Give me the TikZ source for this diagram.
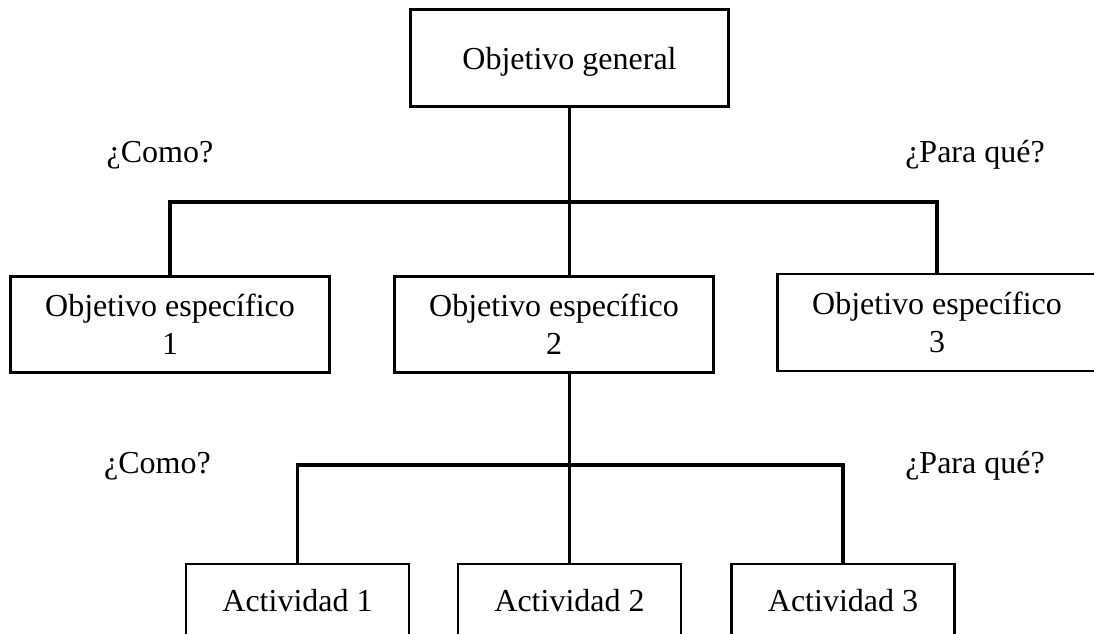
\documentclass[tikz,border=0pt]{standalone}
\usepackage{fontspec}
\setmainfont{Liberation Serif}
\begin{document}
\begin{tikzpicture}[x=1pt,y=-1pt,
  every node/.style={font=\fontsize{32}{38}\selectfont},
  box/.style={draw=black,line width=2.2pt,rectangle,inner sep=0pt,align=center},
  onebox/.style={box,text height=22pt,text depth=0pt},
  actbox/.style={box,minimum width=223pt,minimum height=80pt,text height=22pt,text depth=8pt},
  link/.style={draw=black,line width=3.6pt},
  ask/.style={anchor=base,inner sep=0pt}]
  \clip (0,0) rectangle (1094,633);
  \fill[white] (0,0) rectangle (1094,633);

  % objective boxes
  \node[onebox,minimum width=318pt,minimum height=97pt] (gen) at (569.5,58) {Objetivo general};
  \node[box,minimum width=319pt,minimum height=96pt] (e1) at (170,324.5) {Objetivo específico\\1};
  \node[box,minimum width=319pt,minimum height=96pt] (e2) at (554,324.5) {Objetivo específico\\2};
  \node[box,minimum width=319pt,minimum height=97pt] (e3) at (937,322.5) {Objetivo específico\\3};

  % activity boxes, open below the page edge
  \node[actbox,anchor=north] (a1) at (297.5,563) {Actividad 1};
  \node[actbox,anchor=north] (a2) at (569.5,563) {Actividad 2};
  \node[actbox,anchor=north] (a3) at (843,563) {Actividad 3};

  % first-level tree
  \coordinate (bar1) at (0,202);
  \path[link] (gen.south) -- (gen.south |- e2.north);
  \path[link] (e1.north) -- (e1.north |- bar1) -- (e3.north |- bar1) -- (e3.north);

  % second-level tree
  \coordinate (bar2) at (0,465);
  \path[link] (a2.north |- e2.south) -- (a2.north);
  \path[link] (a1.north) -- (a1.north |- bar2) -- (a3.north |- bar2) -- (a3.north);

  % guiding questions
  \node[ask] (q1) at (160,162) {¿Como?};
  \node[ask] (q2) at (975,162) {¿Para qué?};
  \node[ask] (q3) at (157.5,473) {¿Como?};
  \node[ask] (q4) at (975,473) {¿Para qué?};
\end{tikzpicture}
\end{document}
